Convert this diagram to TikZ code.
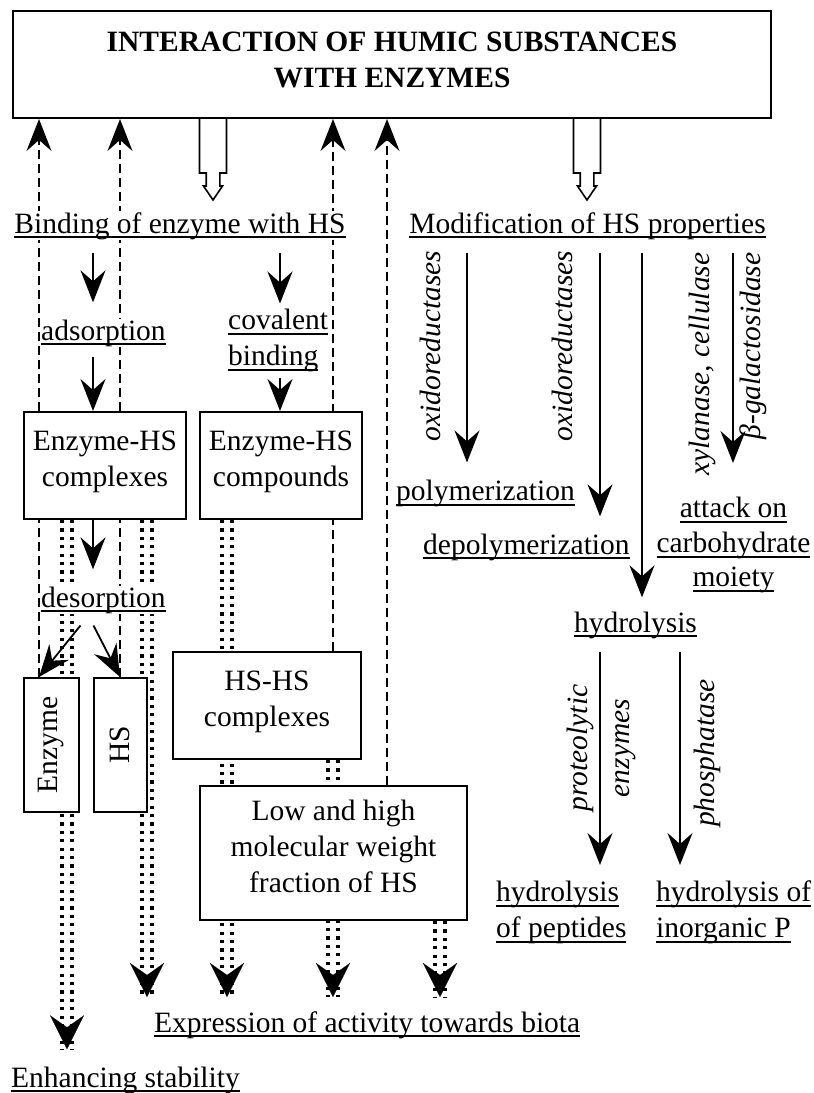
\documentclass[tikz,border=0pt]{standalone}
\usepackage{fontspec}
\setmainfont{Liberation Serif}
\usetikzlibrary{arrows.meta,backgrounds,calc}

\newcommand{\bodyfont}{\fontsize{29.5}{36}\selectfont}
% underline at a fixed distance under the baseline
\newcommand{\ulin}[1]{\setbox0=\hbox{#1}\rlap{\rule[-5.4pt]{\wd0}{2pt}}\box0}

\tikzset{
  box/.style={draw, line width=2pt, fill=white, align=center, inner sep=0pt},
  tbox/.style={box, text depth=14pt},
  lbl/.style={fill=white, inner sep=1pt, align=center},
  enzl/.style={font=\bodyfont\itshape, rotate=90, inner sep=0pt, align=center},
  arr/.style={line width=1.8pt, -{Stealth[length=32pt,width=25pt,inset=11pt]}},
  back/.style={line width=1.7pt, dash pattern=on 9pt off 5pt, -{Stealth[length=32pt,width=25pt,inset=11pt]}},
  dots/.style={draw, line width=3.2pt, dash pattern=on 3.2pt off 5.2pt},
  effect/.style={
    preaction={dots, transform canvas={xshift=-5pt}},
    preaction={dots, transform canvas={xshift=5pt}},
    postaction={draw, line width=0.1pt, dash pattern=on 0pt off 3000pt, -{Stealth[length=34pt,width=34pt,inset=12pt]}}},
  hollow/.style={line width=1.6pt, line join=miter},
}

\begin{document}
\begin{tikzpicture}[x=1pt, y=-1pt, font=\bodyfont]
\useasboundingbox (0,0) rectangle (814,1093);

% columns of the vertical connectors
\foreach \col in {39,67,93,120,147,213,227,280,333,387,440,467,587,600,642,680,733}
  \coordinate (c\col) at (\col,0);

% top
\node[box, font=\bodyfont\bfseries, minimum width=758pt, minimum height=107pt, text depth=9pt] (title) at (392,64.5) {INTERACTION OF HUMIC SUBSTANCES\\WITH ENZYMES};
\node[lbl, anchor=base] (bind) at (180,233) {\ulin{Binding of enzyme with HS}};
\node[lbl, anchor=base] (modif) at (587.5,233) {\ulin{Modification of HS properties}};

% binding side
\node[lbl, inner xsep=0pt, anchor=base west] (adsorp) at (41,340) {\ulin{adsorption}};
\node[lbl, anchor=north west, align=left] (coval) at (227,307.5) {\ulin{covalent}\\\ulin{binding}};
\node[tbox, minimum width=162pt, minimum height=107pt] (cplx) at (105,465.5) {Enzyme-HS\\complexes};
\node[tbox, minimum width=162pt, minimum height=107pt] (cpnd) at (281,465.5) {Enzyme-HS\\compounds};
\node[lbl, inner xsep=0pt, anchor=base west] (desorp) at (41,607) {\ulin{desorption}};
\node[box, rotate=90, minimum width=134pt, minimum height=55pt] (enz) at (51.5,745) {Enzyme};
\node[box, rotate=90, minimum width=134pt, minimum height=53pt] (hs) at (120,745) {HS};
\node[tbox, minimum width=188pt, minimum height=107pt] (hshs) at (267,705.5) {HS-HS\\complexes};
\node[tbox, minimum width=267pt, minimum height=134pt] (frac) at (333.5,853) {Low and high\\molecular weight\\fraction of HS};
\node[lbl, anchor=base west] (expr) at (153,1032) {\ulin{Expression of activity towards biota}};
\node[lbl, anchor=base west] (enh) at (10,1087) {\ulin{Enhancing stability}};

% modification side
\node[lbl, anchor=base west] (poly) at (395,500.6) {\ulin{polymerization}};
\node[lbl, anchor=base west] (depoly) at (422,554) {\ulin{depolymerization}};
\node[lbl, anchor=north, font=\fontsize{29.5}{34.5}\selectfont] (carb) at (733.5,496) {\ulin{attack on}\\\ulin{carbohydrate}\\\ulin{moiety}};
\node[lbl, anchor=base] (hydro) at (635.5,632) {\ulin{hydrolysis}};
\node[lbl, anchor=north west, align=left] (pept) at (495,879.6) {\ulin{hydrolysis}\\\ulin{of peptides}};
\node[lbl, anchor=north west, align=left] (inorg) at (655,879.6) {\ulin{hydrolysis of}\\\ulin{inorganic P}};

% enzymes along the arrows
\node[enzl] (oxa) at (430,346) {oxidoreductases};
\node[enzl] (oxb) at (562,346) {oxidoreductases};
\node[enzl] (xyl) at (702,364) {xylanase, cellulase};
\node[enzl] (gal) at (753,346) {β-galactosidase};
\node[enzl, font=\fontsize{29.5}{42}\selectfont\itshape] (prot) at (601,748) {proteolytic\\enzymes};
\node[enzl] (phos) at (707,753) {phosphatase};

\begin{scope}[on background layer]
% binding branch
\draw[arr, shorten <=12pt, shorten >=16pt] (c93 |- bind.south) -- (c93 |- adsorp.north);
\draw[arr, shorten <=12pt, shorten >=4pt] (c280 |- bind.south) -- (c280 |- coval.north);
\draw[arr, shorten <=10pt] (c93 |- adsorp.south) -- (c93 |- cplx.north);
\draw[arr, shorten <=5pt] (c280 |- coval.south) -- (c280 |- cpnd.north);
\draw[arr, shorten >=16pt] (c93 |- cplx.south) -- (c93 |- desorp.north);
\draw[arr] (desorp.south) ++(-23,11) -- (c39 |- enz.east);
\draw[arr] (desorp.south) ++(-10,11) -- (c120 |- hs.east);

% back to the interaction
\draw[back] (c39 |- enz.east) -- (c39 |- title.south);
\draw[back] (c120 |- hs.east) -- (c120 |- title.south);
\draw[back] (c333 |- hshs.north) -- (c333 |- title.south);
\draw[back] (c387 |- frac.north) -- (c387 |- title.south);

% effects
\path[effect] (c67 |- cplx.south) -- ($(c67 |- enh.north)+(0,-16)$);
\path[effect] (c147 |- cplx.south) -- ($(c147 |- expr.north)+(0,-13)$);
\path[effect] (c227 |- cpnd.south) -- ($(c227 |- expr.north)+(0,-13)$);
\path[effect] (c333 |- hshs.south) -- ($(c333 |- expr.north)+(0,-13)$);
\path[effect] (c440 |- frac.south) -- ($(c440 |- expr.north)+(0,-13)$);

% modification branch
\draw[arr, shorten <=12.6pt, shorten >=16.5pt] (c467 |- modif.south) -- (c467 |- poly.north);
\draw[arr, shorten <=12.6pt, shorten >=16pt] (c600 |- modif.south) -- (c600 |- depoly.north);
\draw[arr, shorten <=12.6pt, shorten >=13pt] (c642 |- modif.south) -- (c642 |- hydro.north);
\draw[arr, shorten <=12.6pt, shorten >=33pt] (c733 |- modif.south) -- (c733 |- carb.north);
\draw[arr, shorten <=12.6pt, shorten >=14.6pt] (c600 |- hydro.south) -- (c600 |- pept.north);
\draw[arr, shorten <=12.6pt, shorten >=14.6pt] (c680 |- hydro.south) -- (c680 |- inorg.north);
\end{scope}

% hollow arrows out of the interaction
\draw[hollow] (c213 |- title.south) ++(-13.5,0) -- ++(0,54) -- ++(6.7,0) -- ++(0,13) -- ++(-2.7,0) -- ++(9.5,14) -- ++(9.5,-14) -- ++(-2.7,0) -- ++(0,-13) -- ++(6.7,0) -- ++(0,-54);
\draw[hollow] (c587 |- title.south) ++(-13.5,0) -- ++(0,54) -- ++(6.7,0) -- ++(0,13) -- ++(-2.7,0) -- ++(9.5,14) -- ++(9.5,-14) -- ++(-2.7,0) -- ++(0,-13) -- ++(6.7,0) -- ++(0,-54);
\end{tikzpicture}
\end{document}
